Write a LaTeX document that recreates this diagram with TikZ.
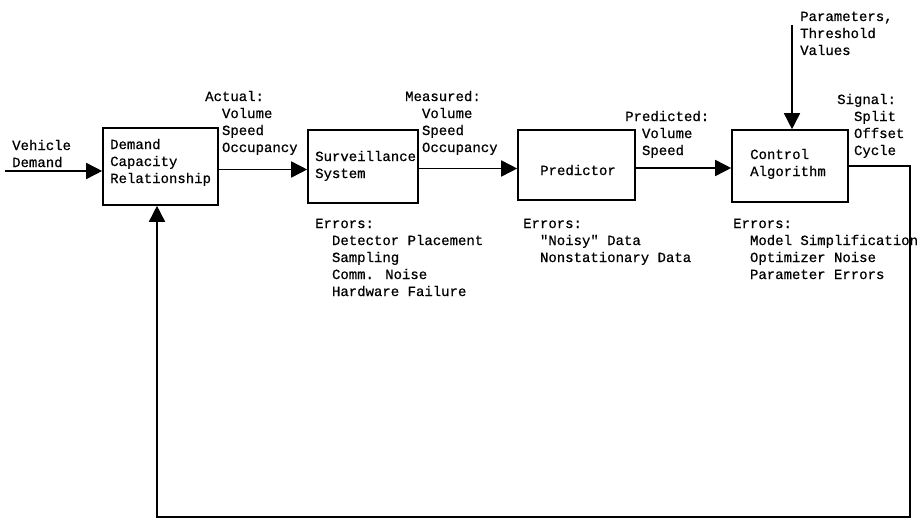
\documentclass[tikz,border=0pt]{standalone}
\usepackage{fontspec}
\newfontfamily\twfont{Liberation Mono}[FakeBold=0.6]
\usetikzlibrary{arrows.meta}
\newcommand{\myind}{\phantom{MM}}
\begin{document}
\begin{tikzpicture}[x=1pt,y=-1pt,
  txt/.style={font=\twfont\fontsize{14}{17}\selectfont, align=left, inner sep=0pt, anchor=base west},
  blk/.style={draw, line width=1.6pt, inner sep=0pt},
  flow/.style={line width=1.6pt, line join=miter, -{Triangle[length=16pt,width=16pt]}}
]
\useasboundingbox (0,0) rectangle (921,519);
% boxes
\node[blk, minimum width=115pt, minimum height=77pt] (dcr) at (160.5,166.5) {};
\node[blk, minimum width=110pt, minimum height=73pt] (sur) at (363,166.5) {};
\node[blk, minimum width=117pt, minimum height=70pt] (pre) at (576.5,165) {};
\node[blk, minimum width=116pt, minimum height=72pt] (ctl) at (790,166) {};
% connector ends
\coordinate (vstart) at (5,171);
\coordinate (pstart) at (792,25);
\coordinate (fbR) at (910,517);
\coordinate (fbL) at (157,517);
% connectors
\draw[flow] (vstart) -- (vstart -| dcr.west);
\draw[flow] ([yshift=-3pt]dcr.east) -- ([yshift=-3pt]dcr.east -| sur.west);
\draw[flow] ([yshift=-2pt]sur.east) -- ([yshift=-2pt]sur.east -| pre.west);
\draw[flow] ([yshift=-3pt]pre.east) -- ([yshift=-3pt]pre.east -| ctl.west);
\draw[flow] (pstart) -- (pstart |- ctl.north);
\draw[flow] (ctl.east) -- (ctl.east -| fbR) -- (fbR) -- (fbL) -- (fbL |- dcr.south);
% texts (anchored at the baseline of the last line)
\node[txt] (tvd) at (12,167) {Vehicle\\Demand};
\node[txt] (tdcr) at (110,183) {Demand\\Capacity\\Relationship};
\node[txt] (tact) at (205,152) {Actual:\\\myind Volume\\\myind Speed\\\myind Occupancy};
\node[txt] (tsur) at (315,178) {Surveillance\\System};
\node[txt] (tmea) at (405,152) {Measured:\\\myind Volume\\\myind Speed\\\myind Occupancy};
\node[txt] (tpre) at (540,175) {Predictor};
\node[txt] (tprd) at (625,155) {Predicted:\\\myind Volume\\\myind Speed};
\node[txt] (tctl) at (750,176) {Control\\Algorithm};
\node[txt] (tpar) at (800,55) {Parameters,\\Threshold\\Values};
\node[txt] (tsig) at (837,155) {Signal:\\\myind Split\\\myind Offset\\\myind Cycle};
\node[txt] (esur) at (315,296) {Errors:\\\myind Detector Placement\\\myind Sampling\\\myind Comm. Noise\\\myind Hardware Failure};
\node[txt] (epre) at (523,262) {Errors:\\\myind "Noisy" Data\\\myind Nonstationary Data};
\node[txt] (ectl) at (733,279) {Errors:\\\myind Model Simplification\\\myind Optimizer Noise\\\myind Parameter Errors};
\end{tikzpicture}
\end{document}
